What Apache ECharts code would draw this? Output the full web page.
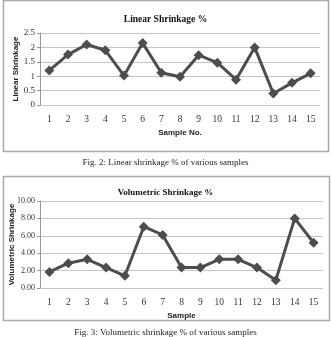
<!DOCTYPE html>
<html>
<head>
    <meta charset="utf-8">
    <title>Shrinkage</title>
</head>
<body style="margin: 0; background: #fff">
<div id="container" style="width: 331px; height: 337px"></div>
<script src="https://cdn.jsdelivr.net/npm/echarts@6/dist/echarts.min.js"></script>
<script type="text/javascript">
    var samples = ['1', '2', '3', '4', '5', '6', '7', '8', '9', '10', '11', '12', '13', '14', '15'];
    var linearShrinkage = [1.2, 1.75, 2.1, 1.9, 1.02, 2.15, 1.12, 0.98, 1.73, 1.47, 0.88, 2.0, 0.4, 0.77, 1.1];
    var volumetricShrinkage = [1.85, 2.85, 3.3, 2.35, 1.4, 7.05, 6.1, 2.35, 2.35, 3.3, 3.3, 2.35, 0.9, 8.0, 5.2];

    var serif = 'Liberation Serif';
    var sans = 'Liberation Sans';
    var lineColor = '#4d4d4d';

    var chart = echarts.init(document.getElementById('container'), null, {renderer: 'canvas'});

    function xAxisFor(idx, name) {
        return {
            type: 'category',
            gridIndex: idx,
            data: samples,
            boundaryGap: true,
            axisLine: {show: false},
            axisTick: {show: false},
            axisLabel: {fontFamily: serif, fontSize: 9.5, color: '#333', margin: 9},
            name: name,
            nameLocation: 'middle',
            nameGap: 24,
            nameMoveOverlap: false,
            nameTextStyle: {fontFamily: sans, fontSize: 8, fontWeight: 'bold', color: '#222'}
        };
    }

    function yAxisFor(idx, name, max, interval, digits, gap, labelSize) {
        return {
            type: 'value',
            gridIndex: idx,
            min: 0,
            max: max,
            interval: interval,
            axisLine: {show: true, lineStyle: {color: '#999'}},
            axisTick: {show: true, length: 3, lineStyle: {color: '#999'}},
            axisLabel: {
                fontFamily: serif, fontSize: labelSize, color: '#333', margin: 5,
                formatter: function (v) { return digits ? v.toFixed(digits) : String(v); }
            },
            splitLine: {lineStyle: {color: '#c4c4c4'}},
            name: name,
            nameLocation: 'middle',
            nameGap: gap,
            nameMoveOverlap: false,
            nameTextStyle: {fontFamily: sans, fontSize: 8, fontWeight: 'bold', color: '#222'}
        };
    }

    function seriesFor(idx, values) {
        return {
            type: 'line',
            xAxisIndex: idx,
            yAxisIndex: idx,
            data: values,
            symbol: 'diamond',
            symbolSize: 10,
            lineStyle: {color: lineColor, width: 3},
            itemStyle: {color: lineColor},
            animation: false
        };
    }

    chart.setOption({
        animation: false,
        title: [
            {text: 'Linear Shrinkage %', left: 'center', top: 10,
                textStyle: {fontFamily: serif, fontSize: 9.5, fontWeight: 'bold', color: '#111'}},
            {text: 'Volumetric Shrinkage %', left: 'center', top: 183,
                textStyle: {fontFamily: serif, fontSize: 9, fontWeight: 'bold', color: '#111'}},
            {text: 'Fig. 2: Linear shrinkage % of various samples', left: 'center', top: 153,
                textStyle: {fontFamily: serif, fontSize: 9, fontWeight: 'normal', color: '#222'}},
            {text: 'Fig. 3: Volumetric shrinkage % of various samples', left: 'center', top: 323,
                textStyle: {fontFamily: serif, fontSize: 9, fontWeight: 'normal', color: '#222'}}
        ],
        graphic: [
            {type: 'rect', shape: {x: 3.5, y: 0.5, width: 325, height: 151},
                style: {fill: null, stroke: '#aaa', lineWidth: 1.5}, z: -1},
            {type: 'rect', shape: {x: 3.5, y: 176.5, width: 326, height: 144},
                style: {fill: null, stroke: '#aaa', lineWidth: 1.5}, z: -1}
        ],
        grid: [
            {left: 40, right: 11, top: 33, height: 72, outerBoundsMode: 'none', containLabel: false},
            {left: 40, right: 8, top: 201, height: 87, outerBoundsMode: 'none', containLabel: false}
        ],
        xAxis: [xAxisFor(0, 'Sample No.'), xAxisFor(1, 'Sample')],
        yAxis: [
            yAxisFor(0, 'Linear Shrinkage', 2.5, 0.5, 0, 20, 9),
            yAxisFor(1, 'Volumetric Shrinkage', 10, 2, 2, 24, 8)
        ],
        series: [seriesFor(0, linearShrinkage), seriesFor(1, volumetricShrinkage)]
    });
</script>
</body>
</html>
